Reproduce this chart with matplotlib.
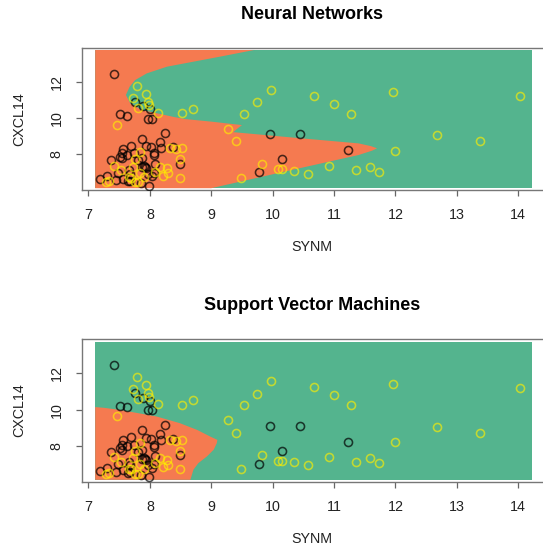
import numpy as np
import matplotlib
matplotlib.use("Agg")
import matplotlib.pyplot as plt
from matplotlib.patches import Rectangle

# ---------------- data ----------------
black_synm = [7.42, 7.76, 7.89, 8.01, 7.51, 7.62, 7.97, 8.04, 9.96, 10.45, 11.23, 10.16, 9.77,
              8.25, 7.87, 8.16, 7.70, 7.93, 8.02, 8.18, 8.38, 7.57, 7.55, 8.06, 8.06, 7.74,
              7.51, 7.55, 7.37, 7.81, 7.87, 8.49, 8.09, 7.90, 7.92, 7.94, 7.88, 7.48, 7.66,
              7.67, 7.97, 8.04, 7.31, 7.18, 7.45, 7.65, 7.85, 7.98, 7.56, 8.06, 7.62, 7.68]
black_cxcl = [12.45, 10.90, 10.64, 10.47, 10.20, 10.12, 9.97, 9.97, 9.10, 9.10, 8.24, 7.72, 7.01,
              9.17, 8.87, 8.67, 8.48, 8.43, 8.39, 8.33, 8.39, 8.30, 8.06, 8.06, 7.96, 8.06,
              7.87, 7.78, 7.66, 7.68, 7.78, 7.48, 7.44, 7.34, 7.28, 7.22, 7.30, 6.98, 7.13,
              6.94, 6.94, 6.80, 6.79, 6.64, 6.57, 6.51, 6.42, 6.27, 6.66, 6.98, 7.98, 6.55]

yellow_synm = [7.79, 7.94, 7.73, 7.97, 7.81, 8.13, 8.53, 8.70, 9.53, 9.75, 9.98, 10.67, 11.00,
               11.28, 11.96, 14.03, 9.27, 9.41, 12.67, 13.37, 12.00, 9.82, 10.08, 10.16, 10.35,
               10.58, 10.92, 11.35, 11.58, 11.73, 9.49, 7.46, 8.53, 8.49, 8.28, 8.30, 8.21, 8.49,
               7.42, 7.53, 7.28, 7.33, 7.70, 7.84, 7.90, 7.81, 8.09, 8.17, 7.73, 7.76, 7.84,
               8.32, 8.43, 7.66, 7.75, 7.99]
yellow_cxcl = [11.78, 11.33, 11.11, 10.90, 10.57, 10.29, 10.25, 10.51, 10.23, 10.88, 11.57, 11.22, 10.79,
               10.23, 11.42, 11.20, 9.40, 8.73, 9.06, 8.73, 8.20, 7.48, 7.18, 7.18, 7.09,
               6.94, 7.37, 7.13, 7.31, 7.03, 6.70, 9.64, 8.33, 7.72, 7.22, 6.96, 6.81, 6.70,
               7.37, 7.13, 6.47, 6.51, 6.70, 6.98, 6.75, 6.47, 7.03, 7.31, 7.31, 7.72, 8.15,
               8.33, 8.28, 6.75, 6.47, 10.70]

# prediction grid extent
grid_synm = [7.11, 14.23]
grid_cxcl = [6.13, 13.75]

# decision boundaries: class "orange" where SYNM < boundary(CXCL14)
nn_bound_cxcl = [6.13, 7.05, 7.96, 8.20, 8.33, 8.45, 8.60, 8.90, 9.22, 9.40, 9.61, 9.80,
                 9.94, 10.05, 10.22, 10.44, 10.81, 11.27, 11.72, 12.09, 12.46, 12.83, 13.38, 13.75]
nn_bound_synm = [9.00, 10.20, 11.40, 11.62, 11.70, 11.60, 11.40, 10.40, 9.36, 9.42, 9.50, 9.00,
                 8.58, 8.40, 8.17, 7.87, 7.68, 7.61, 7.67, 7.76, 7.95, 8.28, 9.14, 9.70]

svm_bound_cxcl = [6.13, 6.69, 7.05, 7.42, 7.79, 8.15, 8.33, 8.52, 8.88, 9.25, 9.62, 9.98, 10.10, 10.14]
svm_bound_synm = [8.66, 8.71, 8.79, 8.93, 9.04, 9.09, 9.10, 8.98, 8.77, 8.49, 8.11, 7.52, 7.25, 7.11]

titles = ["Neural Networks", "Support Vector Machines"]
x_ticks = [7, 8, 9, 10, 11, 12, 13, 14]
y_ticks = [8, 10, 12]

# ---------------- style ----------------
GREEN = "#54B48E"
ORANGE = "#F57A50"
FONT = ["Liberation Sans", "DejaVu Sans"]
plt.rcParams["font.family"] = FONT

W, H = 543, 548
fig = plt.figure(figsize=(W / 100, H / 100), dpi=100)

def px_axes(left, top, right, bottom):
    return fig.add_axes([left / W, 1 - bottom / H, (right - left) / W, (bottom - top) / H])

panels = [
    (px_axes(81.7, 47.8, 546.5, 190.2), nn_bound_cxcl, nn_bound_synm),
    (px_axes(81.7, 339.4, 546.5, 481.8), svm_bound_cxcl, svm_bound_synm),
]

for (ax, bc, bs), title in zip(panels, titles):
    ax.set_xlim(6.89, 14.46)
    ax.set_ylim(6.02, 13.87)
    ax.add_patch(Rectangle((grid_synm[0], grid_cxcl[0]), grid_synm[1] - grid_synm[0],
                           grid_cxcl[1] - grid_cxcl[0], facecolor=GREEN, edgecolor="none", zorder=1))
    ax.fill_betweenx(bc, grid_synm[0], bs, facecolor=ORANGE, edgecolor="none", zorder=2)
    ax.plot(black_synm, black_cxcl, linestyle="none", marker="o", markersize=5.8,
            markerfacecolor="none", markeredgecolor="black", markeredgewidth=1.15, alpha=0.7, zorder=3)
    ax.plot(yellow_synm, yellow_cxcl, linestyle="none", marker="o", markersize=5.8,
            markerfacecolor="none", markeredgecolor="#FFEE00", markeredgewidth=1.15, alpha=0.65, zorder=3)

    ax.set_xticks(x_ticks)
    ax.set_yticks(y_ticks)
    ax.tick_params(axis="both", direction="out", length=4, width=0.9, color="#666666",
                   labelsize=10.3, labelcolor="#222222", pad=9)
    ax.tick_params(axis="y", labelrotation=90)
    for lab in ax.get_yticklabels():
        lab.set_va("center")
    for sp in ax.spines.values():
        sp.set_color("#777777")
        sp.set_linewidth(1.0)

    ax.set_xlabel("SYNM", fontsize=10.3, color="#222222")
    ax.xaxis.label.set_va("center")
    ax.xaxis.set_label_coords(0.495, -0.400)
    ax.set_ylabel("CXCL14", fontsize=10.3, color="#222222")
    ax.yaxis.label.set_va("center")
    ax.yaxis.set_label_coords(-0.135, 0.5)
    ax.text(0.495, 1.235, title, transform=ax.transAxes, ha="center", va="center",
            fontsize=13, fontweight="bold", color="black")

fig.savefig("out.png", dpi=100)
